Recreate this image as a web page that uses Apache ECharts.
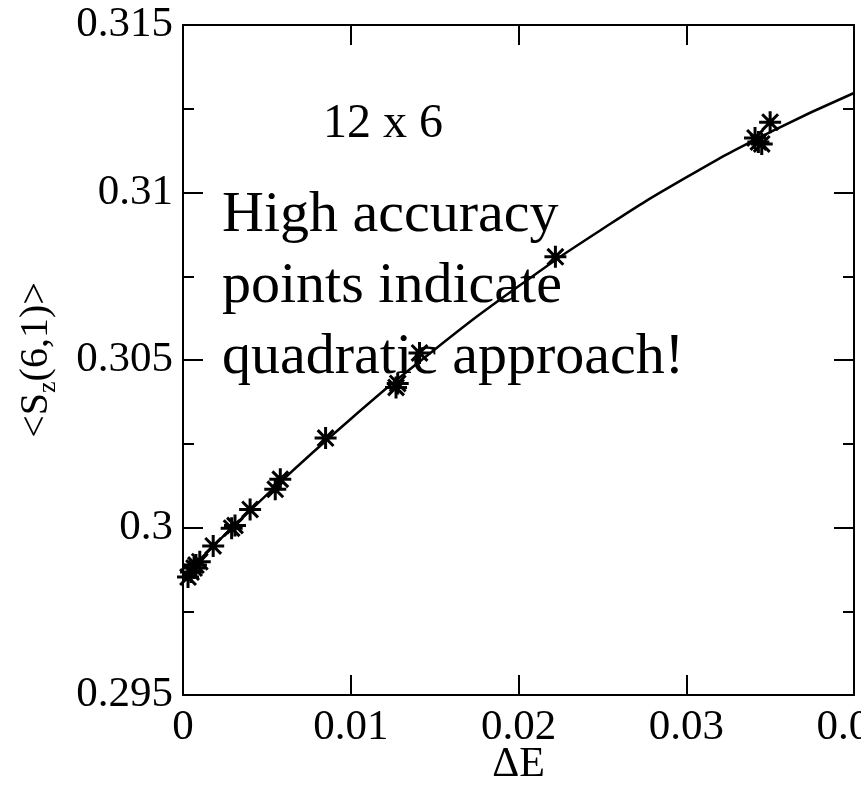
<!DOCTYPE html>
<html>
<head>
<meta charset="utf-8">
<script src="https://cdn.jsdelivr.net/npm/echarts@6/dist/echarts.min.js"></script>
<style>
  html, body { margin: 0; padding: 0; background: #fff; }
  #chart { width: 861px; height: 785px; }
</style>
</head>
<body>
<div id="chart"></div>
<script>
// fitted curve
const fitX = [0, 0.005, 0.01, 0.015, 0.02, 0.025, 0.03, 0.035, 0.04];
const fitY = [0.29855, 0.30098, 0.30324, 0.30531, 0.30720, 0.30891, 0.31045, 0.31180, 0.31297];

// measured points (stars)
const starX = [0.0003, 0.00048, 0.00066, 0.00077, 0.0010, 0.0018, 0.0029, 0.0031, 0.0040,
               0.0055, 0.0058, 0.0085, 0.0127, 0.0128, 0.0141, 0.0222,
               0.0341, 0.0343, 0.0345, 0.0350];
const starY = [0.29852, 0.29867, 0.29879, 0.29888, 0.29898, 0.29945, 0.29998, 0.30006, 0.30054,
               0.30114, 0.30144, 0.30267, 0.30418, 0.30430, 0.30521, 0.30808,
               0.31163, 0.31151, 0.31145, 0.31210];

const xTicks = [0, 0.01, 0.02, 0.03, 0.04];
const yTicks = [0.295, 0.3, 0.305, 0.31, 0.315];
const annoTop = '12 x 6';
const annoMain = ['High accuracy', 'points indicate', 'quadratic approach!'];

const FONT = '"Liberation Serif", "Times New Roman", serif';
const STAR = 'path://M0,-1L0,1M-1,0L1,0M-0.72,-0.72L0.72,0.72M-0.72,0.72L0.72,-0.72';

const chart = echarts.init(document.getElementById('chart'), null, { renderer: 'canvas' });

const axisBase = {
  type: 'value',
  axisLine: { show: true, onZero: false, lineStyle: { color: '#000', width: 2 } },
  axisTick: { show: true, inside: true, length: 20, lineStyle: { color: '#000', width: 2 } },
  splitLine: { show: false }
};
const minor = { show: true, splitNumber: 2, length: 11, lineStyle: { color: '#000', width: 2 } };

chart.setOption({
  backgroundColor: '#fff',
  animation: false,
  grid: { left: 183, right: 7, top: 25, bottom: 90, containLabel: false, outerBoundsMode: 'none' },
  xAxis: [
    Object.assign({}, axisBase, {
      position: 'bottom',
      min: xTicks[0], max: xTicks[xTicks.length - 1], interval: 0.01,
      name: 'ΔE', nameLocation: 'middle', nameGap: 49, nameMoveOverlap: false,
      nameTextStyle: { fontFamily: FONT, fontSize: 42, color: '#000' },
      axisLabel: { fontFamily: FONT, fontSize: 43, color: '#000', margin: 11, hideOverlap: false,
                   formatter: v => String(+v.toFixed(3)) }
    }),
    Object.assign({}, axisBase, {
      position: 'top',
      min: xTicks[0], max: xTicks[xTicks.length - 1], interval: 0.01,
      axisLabel: { show: false }
    })
  ],
  yAxis: [
    Object.assign({}, axisBase, {
      position: 'left',
      min: yTicks[0], max: yTicks[yTicks.length - 1], interval: 0.005,
      minorTick: minor,
      name: '<S{sub|z}(6,1)>', nameLocation: 'middle', nameRotate: 90, nameGap: 122, nameMoveOverlap: false,
      nameTextStyle: {
        fontFamily: FONT, fontSize: 40, color: '#000', lineHeight: 50,
        rich: { sub: { fontFamily: FONT, fontSize: 26, color: '#000', verticalAlign: 'bottom', lineHeight: 26 } }
      },
      axisLabel: { fontFamily: FONT, fontSize: 43, color: '#000', margin: 10,
                   formatter: v => String(+v.toFixed(3)) }
    }),
    Object.assign({}, axisBase, {
      position: 'right',
      min: yTicks[0], max: yTicks[yTicks.length - 1], interval: 0.005,
      minorTick: minor,
      axisLabel: { show: false }
    })
  ],
  graphic: [
    { type: 'text', left: 323, top: 100, z: 100,
      style: { text: annoTop, font: '48px ' + FONT, fill: '#000' } },
    { type: 'text', left: 222, top: 180, z: 100,
      style: { text: annoMain.join('\n'), font: '58px ' + FONT, lineHeight: 71, fill: '#000' } }
  ],
  series: [
    {
      type: 'line', smooth: true, showSymbol: false,
      data: fitX.map((x, i) => [x, fitY[i]]),
      lineStyle: { color: '#000', width: 2.5 },
      z: 2
    },
    {
      type: 'scatter', symbol: STAR, symbolSize: 22,
      data: starX.map((x, i) => [x, starY[i]]),
      itemStyle: { color: 'rgba(0,0,0,0)', borderColor: '#000', borderWidth: 3, opacity: 1 },
      z: 3
    }
  ]
});
</script>
</body>
</html>
